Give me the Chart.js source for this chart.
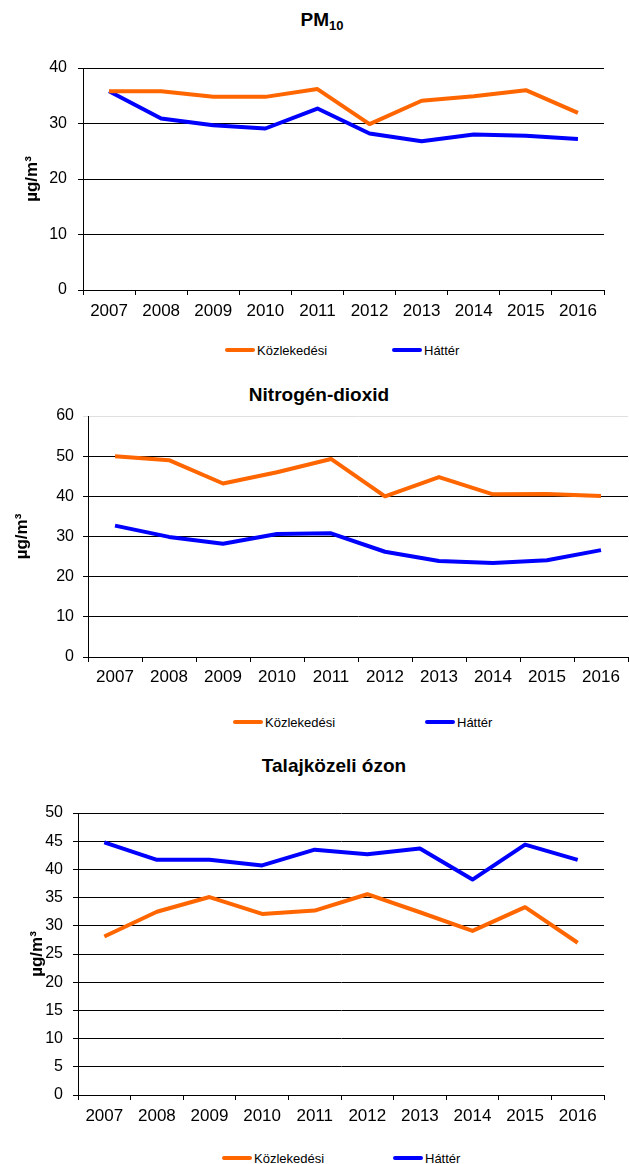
<!DOCTYPE html>
<html>
<head>
<meta charset="utf-8">
<script src="https://cdn.jsdelivr.net/npm/chart.js@4.4.1/dist/chart.umd.min.js"></script>
<style>
  html, body { margin: 0; padding: 0; background: #fff; }
  body { width: 629px; height: 1164px; position: relative; overflow: hidden; font-family: 'Liberation Sans', Arial, sans-serif; }
  canvas { position: absolute; left: 0; }
  .title { position: absolute; transform: translateX(-50%); font-weight: bold; font-size: 19px; line-height: 19px; white-space: nowrap; color: #000; }
  .title sub { font-size: 13px; vertical-align: -4px; line-height: 0; }
  .leg { position: absolute; display: flex; align-items: center; height: 14px; font-size: 13px; color: #000; white-space: nowrap; }
  .leg .ln { display: inline-block; width: 30px; height: 4px; border-radius: 2px; margin-right: 2px; }
</style>
</head>
<body>
<div class="title" style="left:322px; top:10px;">PM<sub>10</sub></div>
<canvas id="c1" width="629" height="330" style="top:0px;"></canvas>
<div class="leg" style="left:225px; top:343px;"><span class="ln" style="background:#FF6600"></span>Közlekedési</div>
<div class="leg" style="left:392px; top:343px;"><span class="ln" style="background:#0000FF"></span>Háttér</div>

<div class="title" style="left:319px; top:385px;">Nitrogén-dioxid</div>
<canvas id="c2" width="629" height="330" style="top:370px;"></canvas>
<div class="leg" style="left:233px; top:715px;"><span class="ln" style="background:#FF6600"></span>Közlekedési</div>
<div class="leg" style="left:425px; top:715px;"><span class="ln" style="background:#0000FF"></span>Háttér</div>

<div class="title" style="left:334px; top:756px;">Talajközeli ózon</div>
<canvas id="c3" width="629" height="400" style="top:740px;"></canvas>
<div class="leg" style="left:222px; top:1151px;"><span class="ln" style="background:#FF6600"></span>Közlekedési</div>
<div class="leg" style="left:393px; top:1151px;"><span class="ln" style="background:#0000FF"></span>Háttér</div>

<script>
const years = ['2007','2008','2009','2010','2011','2012','2013','2014','2015','2016'];
const seriesNames = ['Közlekedési', 'Háttér'];
const pm10Kozl   = [35.8, 35.8, 34.8, 34.8, 36.2, 29.9, 34.1, 34.9, 36.0, 31.9];
const pm10Hatter = [35.8, 30.9, 29.7, 29.1, 32.7, 28.2, 26.8, 28.0, 27.8, 27.2];
const no2Kozl    = [50.0, 49.0, 43.2, 46.0, 49.3, 40.0, 44.8, 40.5, 40.6, 40.1];
const no2Hatter  = [32.7, 29.9, 28.2, 30.6, 30.8, 26.2, 23.9, 23.4, 24.1, 26.6];
const o3Kozl     = [28.1, 32.5, 35.1, 32.1, 32.7, 35.6, 32.4, 29.1, 33.3, 27.0];
const o3Hatter   = [44.8, 41.7, 41.7, 40.7, 43.5, 42.7, 43.7, 38.2, 44.4, 41.7];
const yUnit = 'µg/m³';

const FONT = "'Liberation Sans', Arial, sans-serif";
const ORANGE = '#FF6600';
const BLUE = '#0000FF';

function makeChart(id, kozl, hatter, cfg) {
  const ctx = document.getElementById(id);
  return new Chart(ctx, {
    type: 'line',
    data: {
      labels: years,
      datasets: [
        { label: seriesNames[0], data: kozl, borderColor: ORANGE, backgroundColor: ORANGE, borderWidth: 4, pointRadius: 0, tension: 0, borderJoinStyle: 'round' },
        { label: seriesNames[1], data: hatter, borderColor: BLUE, backgroundColor: BLUE, borderWidth: 4, pointRadius: 0, tension: 0, borderJoinStyle: 'round' }
      ]
    },
    options: {
      responsive: false,
      animation: false,
      devicePixelRatio: 1,
      layout: { padding: { top: cfg.padTop, right: cfg.padRight, left: 0, bottom: 0 } },
      plugins: { legend: { display: false }, title: { display: false }, tooltip: { enabled: false } },
      scales: {
        x: {
          type: 'category',
          offset: true,
          grid: { offset: true, drawOnChartArea: false, drawTicks: true, tickLength: 5, color: '#000', lineWidth: 1 },
          border: { color: '#000', width: 1 },
          ticks: { color: '#000', font: { family: FONT, size: 17 }, padding: cfg.xPad, autoSkip: false, maxRotation: 0 },
          afterFit: (s) => { s.height = cfg.xHeight; }
        },
        y: {
          min: 0, max: cfg.max,
          ticks: { stepSize: cfg.step, color: '#000', font: { family: FONT, size: 16 }, padding: cfg.yPad },
          grid: { color: (c) => (cfg.topGrey && c.tick && c.tick.value === cfg.max) ? '#e0e0e0' : '#000', lineWidth: 1, tickLength: 5 },
          border: { color: '#000', width: 1 },
          title: { display: true, text: yUnit, color: '#000', font: { family: FONT, size: 17, weight: 'bold' }, padding: { top: cfg.titlePad, bottom: 0 } },
          afterFit: (s) => { s.width = cfg.yWidth; }
        }
      }
    }
  });
}

makeChart('c1', pm10Kozl, pm10Hatter, { padTop: 68, padRight: 25, yWidth: 83, xHeight: 40, max: 40, step: 10, xPad: 6, yPad: 11, titlePad: 22, topGrey: false });
makeChart('c2', no2Kozl, no2Hatter, { padTop: 46, padRight: 1, yWidth: 88, xHeight: 43, max: 60, step: 10, xPad: 5, yPad: 9, titlePad: 12, topGrey: true });
makeChart('c3', o3Kozl, o3Hatter, { padTop: 73, padRight: 25, yWidth: 78, xHeight: 45, max: 50, step: 5, xPad: 6, yPad: 10, titlePad: 27, topGrey: false });
</script>
</body>
</html>
